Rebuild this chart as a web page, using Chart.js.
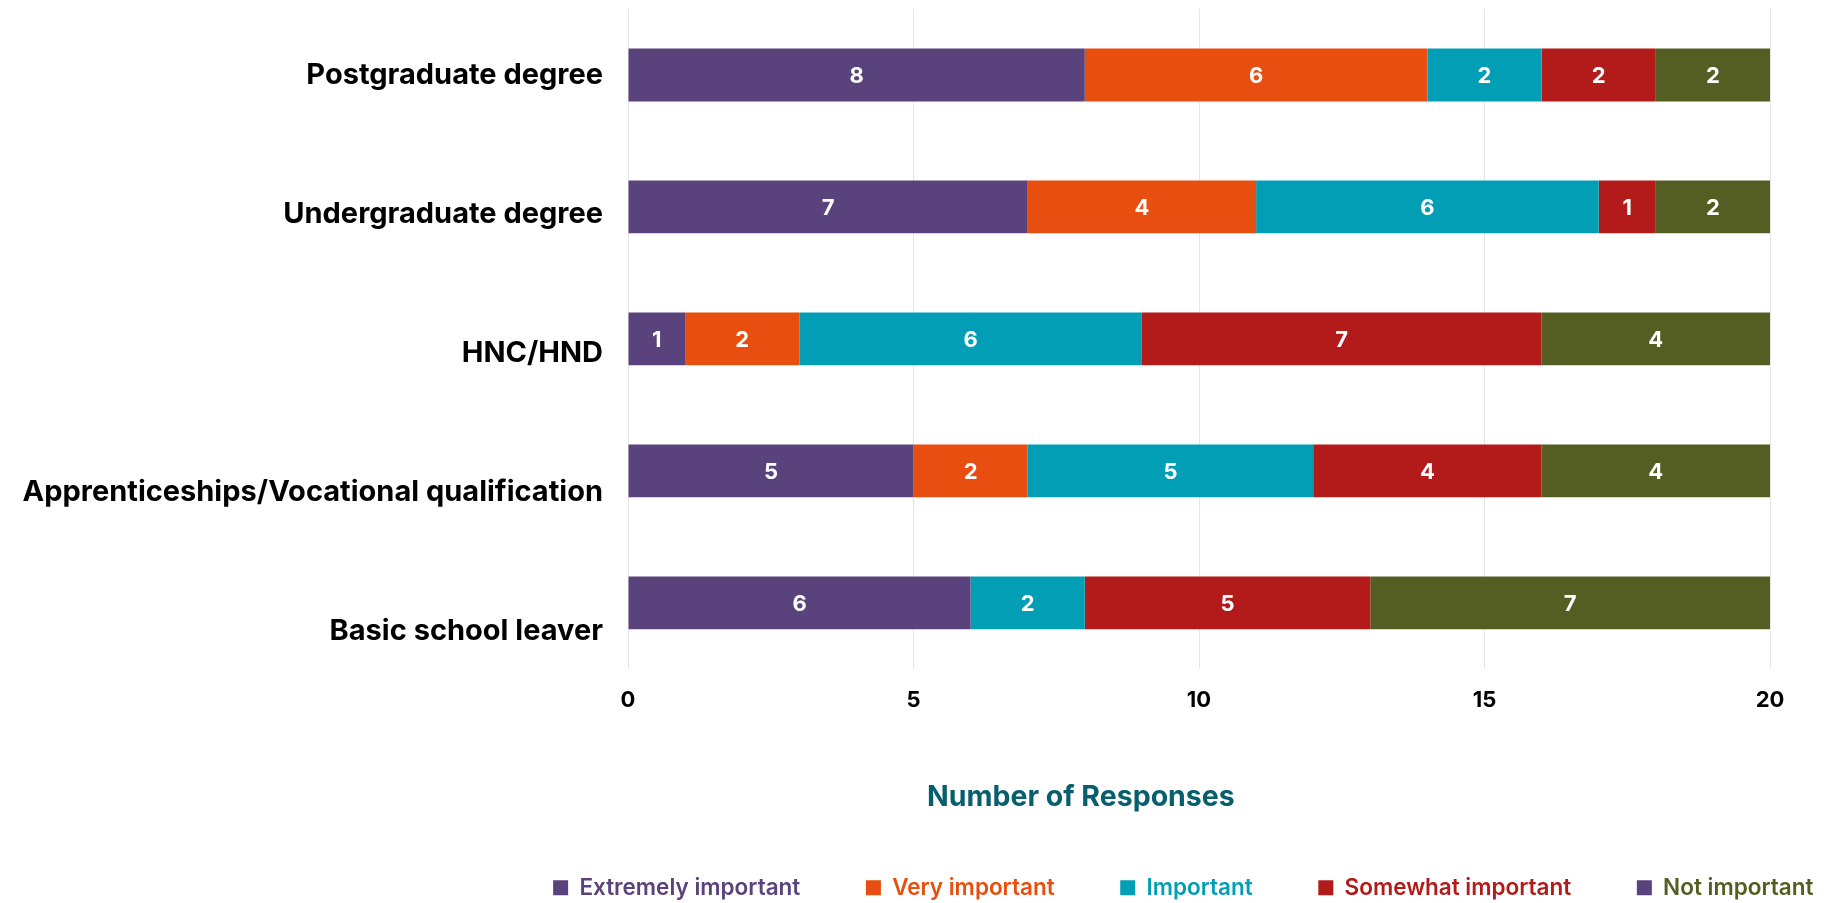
<!DOCTYPE html>
<html>
<head>
<meta charset="utf-8">
<script src="https://cdn.jsdelivr.net/npm/chart.js@4/dist/chart.umd.min.js"></script>
<style>
  html, body { margin: 0; padding: 0; background: #ffffff; }
  #wrap { width: 1827px; height: 903px; position: relative; }
</style>
</head>
<body>
<div id="wrap"><canvas id="c"></canvas></div>
<script>
const categories = ['Postgraduate degree', 'Undergraduate degree', 'HNC/HND', 'Apprenticeships/Vocational qualification', 'Basic school leaver'];
const seriesNames = ['Extremely important', 'Very important', 'Important', 'Somewhat important', 'Not important'];
const extremelyImportant = [8, 7, 1, 5, 6];
const veryImportant = [6, 4, 2, 2, 0];
const important = [2, 6, 6, 5, 2];
const somewhatImportant = [2, 1, 7, 4, 5];
const notImportant = [2, 2, 4, 4, 7];
const xTicks = [0, 5, 10, 15, 20];

const barColors = ['#5a437c', '#e84e0f', '#029eb5', '#b31a1a', '#555e22'];
const legendMarkerColors = ['#5a437c', '#e84e0f', '#029eb5', '#b31a1a', '#5a437c'];
const FONT = 'Inter';
const AXIS_TITLE = 'Number of Responses';

const seriesValues = [extremelyImportant, veryImportant, important, somewhatImportant, notImportant];

const valueLabels = {
  id: 'valueLabels',
  afterDatasetsDraw(chart) {
    const ctx = chart.ctx;
    ctx.save();
    ctx.font = 'bold 22px ' + FONT;
    ctx.fillStyle = '#ffffff';
    ctx.textAlign = 'center';
    ctx.textBaseline = 'middle';
    chart.data.datasets.forEach((ds, i) => {
      const meta = chart.getDatasetMeta(i);
      meta.data.forEach((bar, j) => {
        const v = ds.data[j];
        if (!v) return;
        const p = bar.getProps(['x', 'y', 'base'], true);
        ctx.fillText(String(v), (p.x + p.base) / 2, p.y + 1);
      });
    });
    ctx.restore();
  }
};

new Chart(document.getElementById('c'), {
  type: 'bar',
  data: {
    labels: categories,
    datasets: seriesNames.map((name, i) => ({
      label: name,
      data: seriesValues[i],
      backgroundColor: barColors[i],
      borderWidth: 0,
      barPercentage: 0.8,
      categoryPercentage: 0.5,
      xAxisID: 'x',
      yAxisID: 'y'
    }))
  },
  options: {
    indexAxis: 'y',
    responsive: true,
    maintainAspectRatio: false,
    animation: false,
    layout: { padding: { top: 9, right: -52, bottom: -6, left: 0 } },
    scales: {
      x: {
        type: 'linear',
        stacked: true,
        min: 0,
        max: 20,
        afterBuildTicks: (s) => { s.ticks = xTicks.map(v => ({ value: v })); },
        afterFit: (s) => { s.height = 142; },
        grid: { color: '#e6e6e6', lineWidth: 1, drawTicks: false },
        border: { display: false },
        ticks: { color: '#000000', font: { family: FONT, size: 22, weight: 'bold' }, padding: 18 },
        title: {
          display: true,
          text: AXIS_TITLE + '\u00A0'.repeat(35),
          color: '#075f6e',
          font: { family: FONT, size: 28.5, weight: 'bold' },
          padding: { top: 69, bottom: -4 }
        }
      },
      y: {
        type: 'category',
        stacked: true,
        display: false
      },
      yl: {
        type: 'linear',
        position: 'left',
        reverse: true,
        offset: false,
        min: -0.479,
        max: 4.271,
        afterBuildTicks: (s) => { s.ticks = categories.map((c, i) => ({ value: i })); },
        afterFit: (s) => { s.width = 628; s.paddingTop = 0; s.paddingBottom = 0; },
        grid: { display: false, drawTicks: false, offset: false },
        border: { display: false },
        ticks: {
          autoSkip: false,
          padding: 25,
          color: '#000000',
          font: { family: FONT, size: 29, weight: 'bold' },
          callback: (v) => categories[v] ?? ''
        }
      },
      yr: {
        type: 'linear',
        position: 'right',
        offset: false,
        afterFit: (s) => { s.width = 109; s.paddingTop = 0; s.paddingBottom = 0; },
        grid: { display: false, drawTicks: false, offset: false },
        border: { display: false },
        ticks: { display: false }
      }
    },
    plugins: {
      tooltip: { enabled: false },
      legend: {
        position: 'bottom',
        align: 'end',
        labels: {
          boxWidth: 15,
          boxHeight: 15,
          padding: 65.6,
          font: { family: FONT, size: 22.5, weight: '600' },
          generateLabels: (chart) => seriesNames.map((name, i) => ({
            text: name,
            fillStyle: legendMarkerColors[i],
            strokeStyle: legendMarkerColors[i],
            lineWidth: 0,
            fontColor: barColors[i],
            datasetIndex: i,
            hidden: false
          }))
        }
      }
    }
  },
  plugins: [valueLabels]
});
</script>
</body>
</html>
